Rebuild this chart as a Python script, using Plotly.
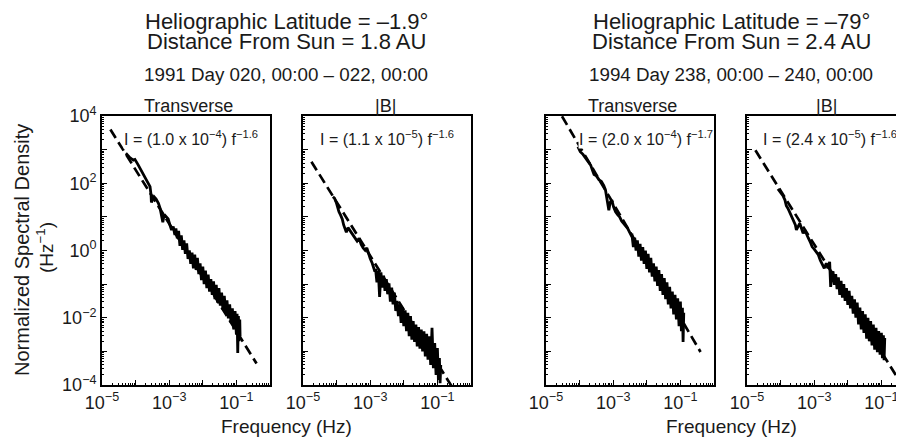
import numpy as np
import plotly.graph_objects as go

# ---------------- data (log10 values) ----------------
p1_logf = [-4.29, -4.17, -4.07, -4.02, -3.92, -3.82, -3.77, -3.69, -3.62, -3.57, -3.54, -3.53, -3.50, -3.45,
           -3.39, -3.32, -3.27, -3.22, -3.19, -3.15, -3.08, -3.03, -2.98, -2.93, -2.88, -2.83,
           -2.80, -2.76, -2.72, -2.68, -2.64, -2.60, -2.56, -2.52, -2.48, -2.44, -2.40, -2.36, -2.32, -2.28,
           -2.24, -2.20, -2.16, -2.12, -2.08, -2.04, -2.00, -1.96, -1.92, -1.88, -1.84, -1.80, -1.76, -1.72,
           -1.68, -1.64, -1.60, -1.56, -1.52, -1.48, -1.44, -1.40, -1.36, -1.32, -1.28, -1.24, -1.20, -1.16,
           -1.12, -1.08, -1.04, -1.00, -0.98, -0.96, -0.94, -0.92, -0.90, -0.89]
p1_logI = [2.89, 2.76, 2.69, 2.71, 2.54, 2.36, 2.24, 2.10, 2.00, 1.90, 1.65, 1.43, 1.50, 1.60,
           1.53, 1.40, 1.25, 1.05, 0.84, 1.07, 1.00, 0.94, 0.76, 0.61, 0.71, 0.46,
           0.66, 0.36, 0.58, 0.14, 0.45, 0.02, 0.30, -0.10, 0.21, -0.25, 0.00, -0.40, -0.06, -0.53,
           -0.12, -0.58, -0.22, -0.70, -0.38, -0.88, -0.48, -1.00, -0.60, -1.12, -0.72, -1.22, -0.85, -1.32,
           -0.92, -1.45, -1.02, -1.55, -1.12, -1.64, -1.25, -1.76, -1.35, -1.88, -1.48, -2.02, -1.60, -2.15,
           -1.72, -2.35, -1.80, -2.50, -1.88, -3.05, -1.95, -2.70, -2.05, -2.55]

p2_logf = [-4.11, -4.06, -4.01, -3.98, -3.93, -3.88, -3.83, -3.79, -3.75, -3.71, -3.66, -3.61, -3.56, -3.51,
           -3.45, -3.39, -3.33, -3.27, -3.21, -3.15, -3.10, -3.05, -3.00, -2.94, -2.90, -2.86,
           -2.84, -2.80, -2.76, -2.72, -2.68, -2.64, -2.60, -2.56, -2.52, -2.48, -2.44, -2.40, -2.36, -2.32,
           -2.28, -2.24, -2.20, -2.16, -2.12, -2.08, -2.04, -2.00, -1.96, -1.92, -1.88, -1.84, -1.80, -1.76,
           -1.72, -1.68, -1.64, -1.60, -1.56, -1.52, -1.48, -1.44, -1.40, -1.36, -1.32, -1.28, -1.24, -1.20,
           -1.16, -1.12, -1.08, -1.04, -1.00, -0.97, -0.94, -0.92, -0.90]
p2_logI = [1.60, 1.55, 1.43, 1.30, 1.15, 1.05, 0.93, 0.76, 0.61, 0.54, 0.68, 0.61, 0.51, 0.44,
           0.38, 0.28, 0.36, 0.18, 0.08, 0.01, 0.08, -0.09, -0.24, -0.38, -0.53, -0.63,
           -0.55, -0.95, -0.60, -1.38, -0.65, -1.10, -0.75, -1.20, -0.85, -1.30, -0.98, -1.52, -1.10, -1.60,
           -1.25, -1.80, -1.50, -1.95, -1.60, -2.15, -1.68, -2.25, -1.78, -2.40, -1.85, -2.55, -1.95, -2.65,
           -2.10, -2.72, -2.20, -2.85, -2.28, -2.92, -2.35, -3.00, -2.40, -3.15, -2.48, -3.25, -2.55, -3.40,
           -2.30, -3.50, -2.75, -3.70, -2.90, -3.85, -3.20, -3.95, -3.40]

p3_logf = [-4.05, -3.98, -3.90, -3.82, -3.74, -3.67, -3.62, -3.57, -3.50, -3.42, -3.35, -3.28, -3.23, -3.20,
           -3.17, -3.13, -3.09, -3.04, -2.99, -2.93, -2.87, -2.81, -2.75, -2.69, -2.63, -2.57, -2.51, -2.46,
           -2.44, -2.40, -2.36, -2.32, -2.28, -2.24, -2.20, -2.16, -2.12, -2.08, -2.04, -2.00, -1.96, -1.92,
           -1.88, -1.84, -1.80, -1.76, -1.72, -1.68, -1.64, -1.60, -1.56, -1.52, -1.48, -1.44, -1.40, -1.36,
           -1.32, -1.28, -1.24, -1.20, -1.16, -1.12, -1.08, -1.04, -1.00, -0.97, -0.94, -0.92, -0.90]
p3_logI = [3.09, 2.94, 2.86, 2.74, 2.64, 2.54, 2.39, 2.26, 2.22, 2.10, 2.05, 1.93, 1.80, 1.60,
           1.35, 1.20, 1.43, 1.50, 1.30, 1.15, 1.07, 1.00, 0.88, 0.81, 0.71, 0.66, 0.54, 0.44,
           0.45, 0.10, 0.38, 0.00, 0.30, -0.18, 0.20, -0.30, 0.10, -0.40, 0.00, -0.55, -0.10, -0.65,
           -0.22, -0.78, -0.38, -0.92, -0.48, -1.05, -0.58, -1.20, -0.70, -1.32, -0.82, -1.45, -0.95, -1.60,
           -1.08, -1.72, -1.22, -1.90, -1.32, -2.05, -1.42, -2.25, -1.52, -2.40, -1.70, -2.72, -1.85]

p4_logf = [-4.08, -4.01, -3.93, -3.87, -3.83, -3.78, -3.73, -3.67, -3.61, -3.56, -3.53, -3.48, -3.43, -3.38,
           -3.33, -3.28, -3.23, -3.18, -3.12, -3.06, -3.00, -2.94, -2.88, -2.82, -2.76, -2.70, -2.64, -2.59,
           -2.54, -2.51, -2.47,
           -2.44, -2.40, -2.36, -2.32, -2.28, -2.24, -2.20, -2.16, -2.12, -2.08, -2.04, -2.00, -1.96, -1.92,
           -1.88, -1.84, -1.80, -1.76, -1.72, -1.68, -1.64, -1.60, -1.56, -1.52, -1.48, -1.44, -1.40, -1.36,
           -1.32, -1.28, -1.24, -1.20, -1.16, -1.12, -1.08, -1.04, -1.00, -0.97, -0.94, -0.92, -0.90]
p4_logI = [1.83, 1.73, 1.63, 1.50, 1.33, 1.25, 1.13, 1.00, 0.87, 0.76, 0.61, 0.71, 0.81, 0.66,
           0.51, 0.61, 0.48, 0.38, 0.26, 0.11, 0.04, -0.04, -0.12, -0.29, -0.41, -0.53, -0.38, -0.53,
           -0.34, -1.08, -0.68,
           -0.62, -1.02, -0.70, -1.15, -0.80, -1.32, -0.90, -1.40, -1.00, -1.50, -1.12, -1.62, -1.20, -1.72,
           -1.35, -1.88, -1.45, -2.00, -1.55, -2.20, -1.70, -2.35, -1.80, -2.45, -1.90, -2.62, -2.00, -2.70,
           -2.10, -2.82, -2.20, -2.95, -2.30, -3.02, -2.40, -3.10, -2.45, -3.20, -2.52, -3.26, -2.60]

panel_logf = [p1_logf, p2_logf, p3_logf, p4_logf]
panel_logI = [p1_logI, p2_logI, p3_logI, p4_logI]

panel_titles = ["Transverse", "|B|", "Transverse", "|B|"]
fit_amp_mant = ["1.0", "1.1", "2.0", "2.4"]
fit_amp_exp = [-4, -5, -4, -5]
fit_amp = [1.0e-4, 1.1e-5, 2.0e-4, 2.4e-5]
fit_index = [-1.6, -1.6, -1.7, -1.6]
fit_freq_range = [10 ** -4.75, 10 ** -0.4]

latitudes = ["–1.9°", "–79°"]
distances = ["1.8 AU", "2.4 AU"]
intervals = ["1991 Day 020, 00:00 – 022, 00:00", "1994 Day 238, 00:00 – 240, 00:00"]

x_decades = [-5, -4, -3, -2, -1, 0]
y_decades = [-4, -3, -2, -1, 0, 1, 2, 3, 4]

# ---------------- layout geometry ----------------
# The page body keeps its default 8px margin, so screen px = figure px + 8.
OFF = 8
W, H = 912, 442
FONT = "Liberation Sans, Arial, Helvetica, sans-serif"
INK = "#000000"
px_dom = [(102, 270), (303, 471), (546, 714), (747, 915)]   # screen pixels
y_top, y_bot = 116, 385                                      # screen pixels


def fx(sx):
    return (sx - OFF) / W


def fy(sy):
    return 1 - (sy - OFF) / H


def sup(n):
    return ("−" + str(abs(n))) if n < 0 else str(n)


fig = go.Figure()

minor_x = [k * 10.0 ** n for n in range(-5, 0) for k in range(2, 10)]
minor_y = [k * 10.0 ** n for n in range(-4, 4) for k in range(2, 10)]

for i in range(4):
    ax = "" if i == 0 else str(i + 1)
    x0, x1 = px_dom[i]
    ff = np.array(fit_freq_range)
    fig.add_trace(go.Scatter(x=ff, y=fit_amp[i] * ff ** fit_index[i], mode="lines",
                             line=dict(color=INK, width=2.7, dash="10px,5px"),
                             xaxis="x" + ax, yaxis="y" + ax, showlegend=False, hoverinfo="skip"))
    fig.add_trace(go.Scatter(x=10 ** np.array(panel_logf[i]), y=10 ** np.array(panel_logI[i]),
                             mode="lines", line=dict(color=INK, width=2.8),
                             xaxis="x" + ax, yaxis="y" + ax, showlegend=False, hoverinfo="skip"))

    xt = ["10<sup>" + sup(d) + "</sup>" if d in (-5, -3, -1) else "" for d in x_decades]
    yt = ["10<sup>" + sup(d) + "</sup>" if d % 2 == 0 else "" for d in y_decades]
    common = dict(type="log", showline=True, linecolor=INK, linewidth=1.8,
                  ticks="inside", ticklen=5, tickwidth=1.2, tickcolor=INK,
                  showgrid=False, zeroline=False, automargin=False,
                  tickfont=dict(family=FONT, size=18, color="#1a1a1a"))
    fig.layout["xaxis" + ax] = dict(common, domain=[fx(x0), fx(x1)], range=[-5, 0], anchor="y" + ax,
                                    mirror=True, tickmode="array",
                                    tickvals=[10.0 ** d for d in x_decades], ticktext=xt,
                                    minor=dict(tickmode="array", tickvals=minor_x, ticks="inside",
                                               ticklen=2.5, tickwidth=1, tickcolor=INK, showgrid=False))
    fig.layout["yaxis" + ax] = dict(common, domain=[fy(y_bot), fy(y_top)], range=[-4, 4],
                                    anchor="x" + ax, mirror=True, tickmode="array",
                                    tickvals=[10.0 ** d for d in y_decades], ticktext=yt,
                                    showticklabels=(i == 0),
                                    minor=dict(tickmode="array", tickvals=minor_y, ticks="inside",
                                               ticklen=2.5, tickwidth=1, tickcolor=INK, showgrid=False))

ann = []


def txt(x, y, s, size, angle=0, bg=None):
    d = dict(x=fx(x), y=fy(y), xref="paper", yref="paper", text=s, showarrow=False,
             xanchor="center", yanchor="middle", textangle=angle,
             font=dict(family=FONT, size=size, color="#1a1a1a"))
    if bg:
        d.update(bgcolor=bg, borderpad=0)
    ann.append(d)


for k, cx in enumerate([286, 731]):
    txt(cx, 21, "Heliographic Latitude = " + latitudes[k], 22)
    txt(cx, 42, "Distance From Sun = " + distances[k], 22)
    txt(cx, 74, intervals[k], 18.8)
    txt(cx, 426, "Frequency (Hz)", 19)

title_x = [188, 385, 632, 826]
fit_x = [191, 387, 646, 830]
for i in range(4):
    txt(title_x[i], 106, panel_titles[i], 18)
    label = ("I = (" + fit_amp_mant[i] + " x 10<sup>" + sup(fit_amp_exp[i]) + "</sup>) f<sup>"
             + ("−" + str(abs(fit_index[i]))) + "</sup>")
    txt(fit_x[i], 138, label, 16, bg="white")

txt(22, 250, "Normalized Spectral Density", 20, angle=-90)
txt(45, 248, "(Hz<sup>−1</sup>)", 19, angle=-90)

fig.update_layout(width=W, height=H, margin=dict(l=0, r=0, t=0, b=0, autoexpand=False),
                  paper_bgcolor="white", plot_bgcolor="white", annotations=ann,
                  showlegend=False)

fig.write_html("out.html")
